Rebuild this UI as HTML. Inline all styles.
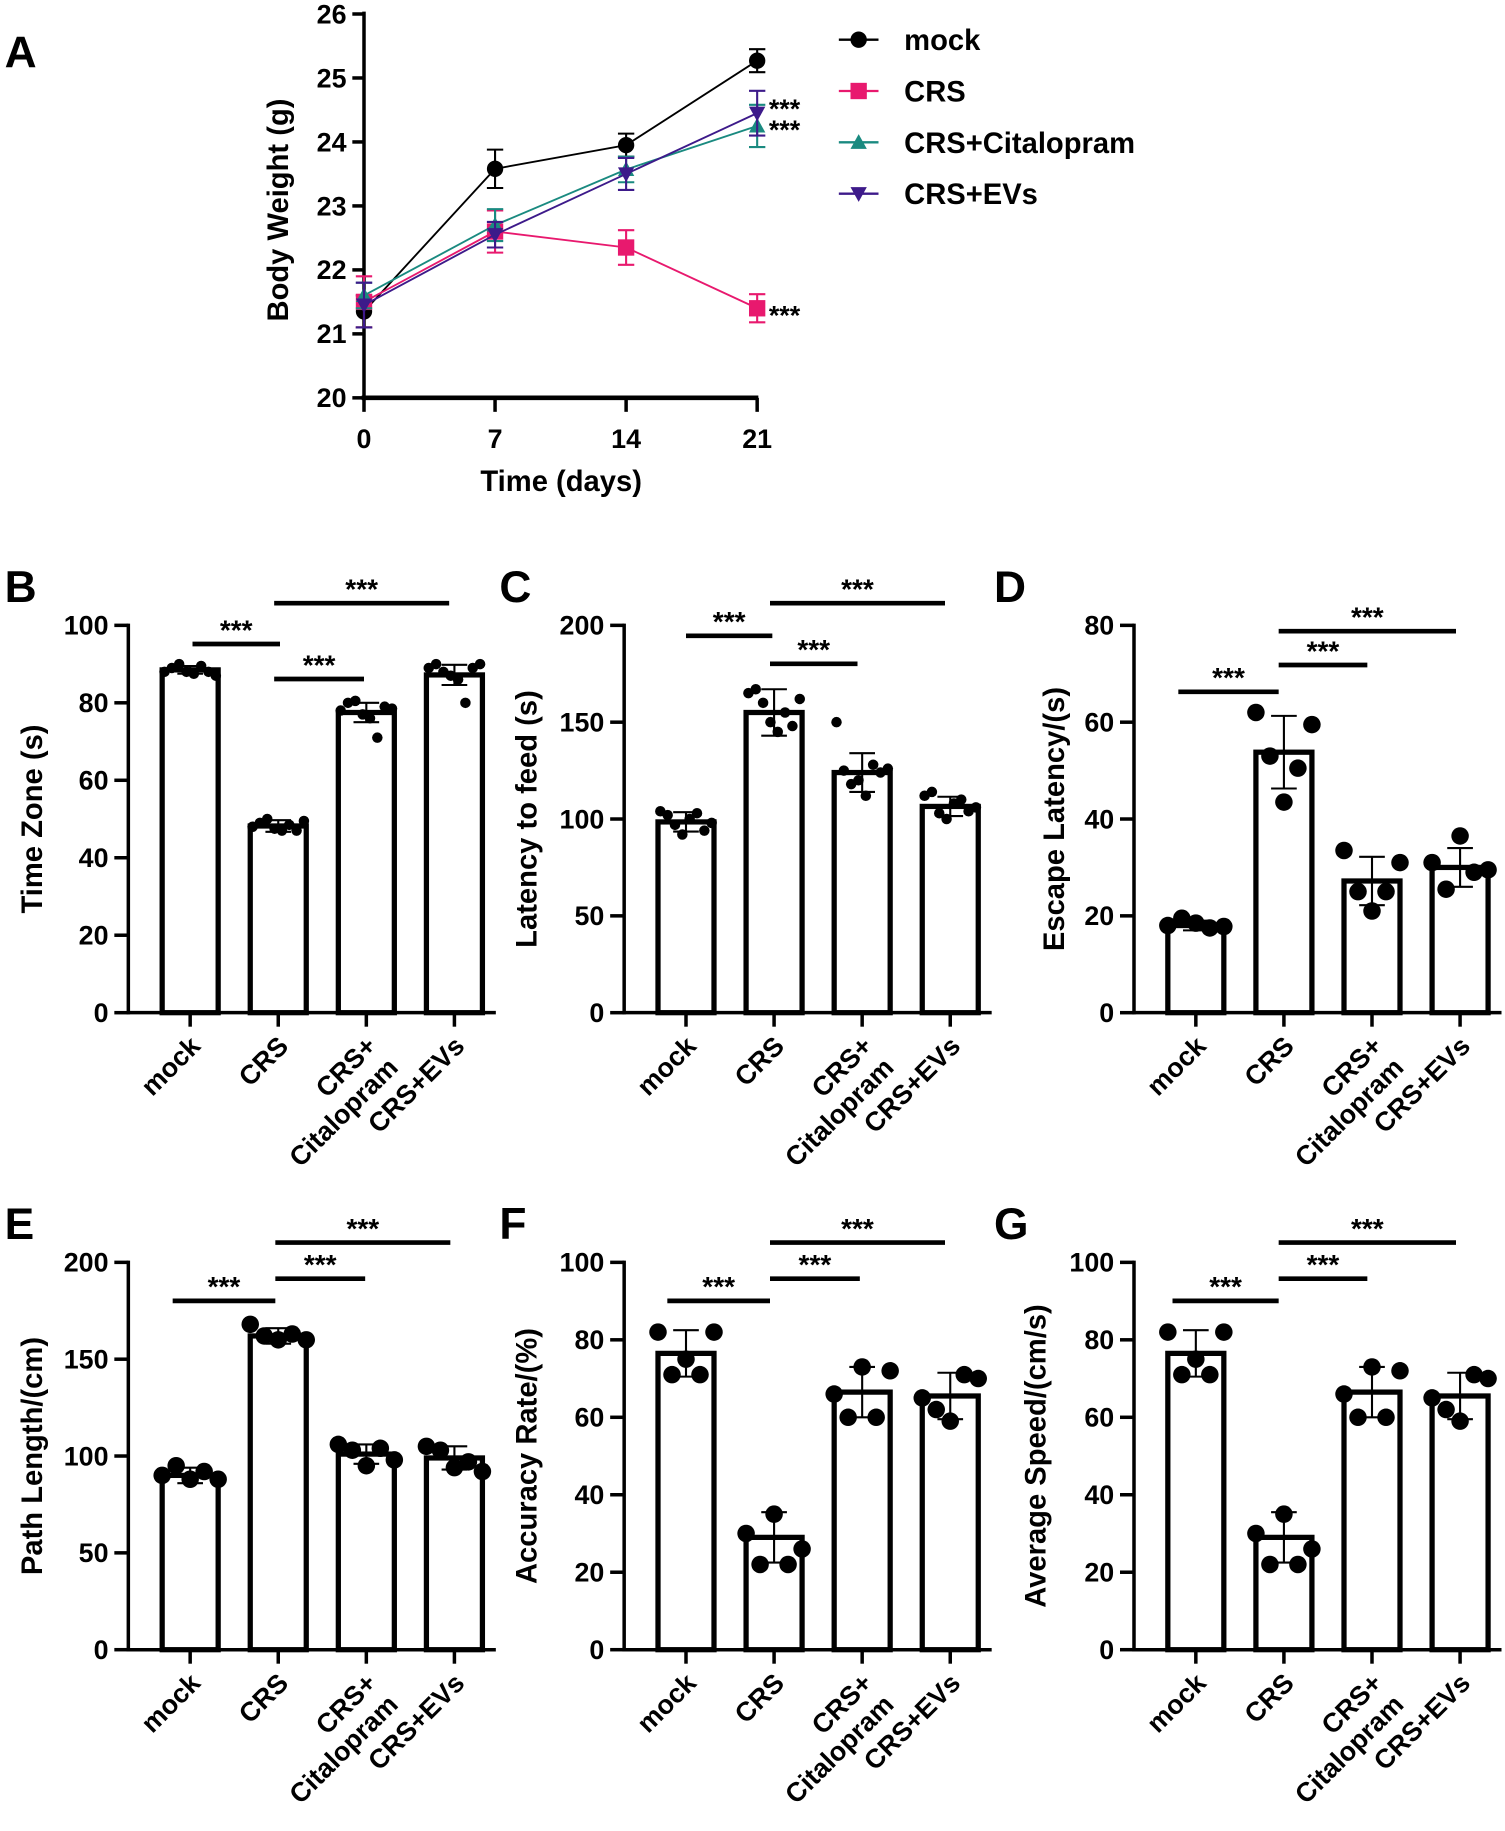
<!DOCTYPE html>
<html><head><meta charset="utf-8">
<style>
html,body{margin:0;padding:0;background:#fff;}
svg{display:block;}
text{font-family:"Liberation Sans",Arial,sans-serif;font-weight:bold;fill:#000;}
.nar{font-family:"Liberation Sans Narrow","Liberation Sans",sans-serif;}
</style></head>
<body>
<svg id="fig" width="1505" height="1831" viewBox="0 0 1290 1569.4" preserveAspectRatio="none" xmlns="http://www.w3.org/2000/svg"></svg>
<script>
// ---- Panel A data ----
const aDays = [0, 7, 14, 21];
const aYTicks = [20, 21, 22, 23, 24, 25, 26];
const aSeriesNames = ["mock", "CRS", "CRS+Citalopram", "CRS+EVs"];
const aMock = [21.35, 23.58, 23.95, 25.27];
const aMockErr = [0.25, 0.3, 0.18, 0.18];
const aCRS = [21.5, 22.6, 22.35, 21.4];
const aCRSErr = [0.4, 0.33, 0.27, 0.22];
const aCit = [21.6, 22.7, 23.57, 24.25];
const aCitErr = [0.2, 0.25, 0.2, 0.33];
const aEVs = [21.45, 22.55, 23.5, 24.45];
const aEVsErr = [0.35, 0.2, 0.25, 0.35];

// ---- Bar panels data ----
const groups = ["mock", "CRS", "CRS+ Citalopram", "CRS+EVs"];
const bMeans = [88.5, 48.2, 77.5, 87.2];
const bSD = [1, 1.5, 2.5, 2.6];
const bPts = [[88,89,90,88,87.5,89.5,88,87],[48,49,50,47.5,47,48.5,47,49.5],[78,80,80.5,77,76,71,79,78.5],[89,90,88,87,86,80,89,90]];
const bTicks = [0, 20, 40, 60, 80, 100];
const cMeans = [98.5, 155, 124, 106.5];
const cSD = [5, 12, 10, 5];
const cPts = [[104,102,97,92,100,103,94,98],[165,167,160,150,145,155,148,162],[150,125,118,120,112,128,124,126],[112,114,103,100,108,110,104,106]];
const cTicks = [0, 50, 100, 150, 200];
const dMeans = [18, 53.8, 27.2, 30];
const dSD = [1, 7.5, 5, 4];
const dPts = [[18,19.5,18.5,17.5,17.8],[62,53,43.5,50.5,59.5],[33.5,25,21,25,31],[31,25.5,36.5,29,29.5]];
const dTicks = [0, 20, 40, 60, 80];
const eMeans = [90, 162, 101, 99];
const eSD = [4, 4, 5, 6];
const ePts = [[90,95,88,92,88],[168,162,160,163,160],[106,103,95,104,98],[105,103,94,97,92]];
const eTicks = [0, 50, 100, 150, 200];
const fMeans = [76.5, 29, 66.5, 65.5];
const fSD = [6, 6.5, 6.5, 6];
const fPts = [[82,71,75,71,82],[30,22,35,22,26],[66,60,73,60,72],[65,62,59,71,70]];
const fTicks = [0, 20, 40, 60, 80, 100];
const gMeans = [76.5, 29, 66.5, 65.5];
const gSD = [6, 6.5, 6.5, 6];
const gPts = [[82,71,75,71,82],[30,22,35,22,26],[66,60,73,60,72],[65,62,59,71,70]];
const gTicks = [0, 20, 40, 60, 80, 100];

const NS = "http://www.w3.org/2000/svg";
const svg = document.getElementById("fig");
function mk(tag, attrs, parent, txt) {
  const e = document.createElementNS(NS, tag);
  for (const k in attrs) e.setAttribute(k, attrs[k]);
  if (txt !== undefined) e.textContent = txt;
  (parent || svg).appendChild(e);
  return e;
}

// ================= Panel A =================
const gA = mk("g", {});


const aX = d => 312 + (d - 0) / 21 * (649 - 312);
const aY = v => 341 - (v - 20) / 6 * (341 - 12);
let t = mk("text", {x: 4, y: 58, "font-size": 38}, gA, "A");


mk("line", {x1: 312, y1: 10, x2: 312, y2: 343, stroke: "#000", "stroke-width": 3}, gA);
mk("line", {x1: 310, y1: 341, x2: 650, y2: 341, stroke: "#000", "stroke-width": 4}, gA);
aYTicks.forEach(v => {
  mk("line", {x1: 302, y1: aY(v), x2: 312, y2: aY(v), stroke: "#000", "stroke-width": 3}, gA);
  const tt = mk("text", {x: 297, y: aY(v) + 8, "font-size": 23, "text-anchor": "end", class: "nar"}, gA, v);
  
  
});
aDays.forEach(d => {
  mk("line", {x1: aX(d), y1: 341, x2: aX(d), y2: 353, stroke: "#000", "stroke-width": 3}, gA);
  const tt = mk("text", {x: aX(d), y: 384, "font-size": 23, "text-anchor": "middle", class: "nar"}, gA, d);
  
  
});
t = mk("text", {x: 481, y: 421, "font-size": 25, "text-anchor": "middle", class: "nar"}, gA, "Time (days)");


t = mk("text", {x: 0, y: 0, "font-size": 25, "text-anchor": "middle", transform: "translate(247,180) rotate(-90)"}, gA, "Body Weight (g)");



const aSeries = [
  {v: aMock, e: aMockErr, c: "#000000", m: "circle", w: 1.6},
  {v: aCRS, e: aCRSErr, c: "#e8196e", m: "square", w: 1.6},
  {v: aCit, e: aCitErr, c: "#1a8a80", m: "tri", w: 1.6},
  {v: aEVs, e: aEVsErr, c: "#3d1a8a", m: "tridown", w: 1.6}
];
function marker(g, m, x, y, c, s) {
  if (m === "circle") return mk("circle", {cx: x, cy: y, r: s, fill: c}, g);
  if (m === "square") return mk("rect", {x: x - s, y: y - s, width: 2 * s, height: 2 * s, fill: c}, g);
  if (m === "tri") return mk("polygon", {points: `${x},${y - s} ${x - s},${y + s * 0.8} ${x + s},${y + s * 0.8}`, fill: c}, g);
  return mk("polygon", {points: `${x},${y + s} ${x - s},${y - s * 0.8} ${x + s},${y - s * 0.8}`, fill: c}, g);
}
aSeries.forEach((s, si) => {
  const g = mk("g", {}, gA);
  
  
  const pts = s.v.map((v, i) => `${aX(aDays[i])},${aY(v)}`).join(" ");
  mk("polyline", {points: pts, fill: "none", stroke: s.c, "stroke-width": s.w}, g);
  s.v.forEach((v, i) => {
    const x = aX(aDays[i]);
    const y1 = aY(v + s.e[i]), y2 = aY(v - s.e[i]);
    mk("line", {x1: x, y1: y1, x2: x, y2: y2, stroke: s.c, "stroke-width": 1.8}, g);
    mk("line", {x1: x - 7, y1: y1, x2: x + 7, y2: y1, stroke: s.c, "stroke-width": 1.8}, g);
    mk("line", {x1: x - 7, y1: y2, x2: x + 7, y2: y2, stroke: s.c, "stroke-width": 1.8}, g);
    const mm = marker(g, s.m, x, aY(v), s.c, 7);
    
    
  });
  const ly = 34 + si * 44;
  const lg = mk("g", {}, gA);
  
  
  mk("line", {x1: 719, y1: ly, x2: 753, y2: ly, stroke: s.c, "stroke-width": 2}, lg);
  marker(lg, s.m, 736, ly, s.c, 7);
  mk("text", {x: 775, y: ly + 9, "font-size": 25}, lg, aSeriesNames[si]);
});
[[aY(aEVs[3]) - 2, "sig-evs"], [aY(aCit[3]) + 5, "sig-cit"], [aY(aCRS[3]) + 8, "sig-crs"]].forEach(p => {
  const tt = mk("text", {x: 659, y: p[0] + 6, "font-size": 23, class: "nar"}, gA, "***");
  
  
});

// ================= Bar panels =================
function barPanel(cfg) {
  const g = mk("g", {});
  
  
  const ax = cfg.ax, top = cfg.top, bot = cfg.top + 332;
  const ymax = cfg.ticks[cfg.ticks.length - 1];
  const Y = v => bot - v / ymax * (bot - top);
  const X = i => ax + 53 + i * 75.5;
  let tt = mk("text", {x: cfg.lx, y: cfg.top - 20, "font-size": 38}, g, cfg.letter);
  
  
  mk("line", {x1: ax, y1: top - 1.5, x2: ax, y2: bot + 1.5, stroke: "#000", "stroke-width": 3}, g);
  mk("line", {x1: ax - 1.5, y1: bot, x2: ax + 315, y2: bot, stroke: "#000", "stroke-width": 3}, g);
  cfg.ticks.forEach(v => {
    mk("line", {x1: ax - 12, y1: Y(v), x2: ax, y2: Y(v), stroke: "#000", "stroke-width": 3}, g);
    const l = mk("text", {x: ax - 17, y: Y(v) + 8, "font-size": 23, "text-anchor": "end"}, g, v);
    
    
  });
  tt = mk("text", {x: 0, y: 0, "font-size": 25, "text-anchor": "middle", transform: `translate(${cfg.tx},${(top + bot) / 2}) rotate(-90)`}, g, cfg.title);
  
  
  cfg.means.forEach((m, i) => {
    const x = X(i);
    mk("line", {x1: x, y1: bot, x2: x, y2: bot + 12, stroke: "#000", "stroke-width": 3}, g);
    const b = mk("rect", {x: x - 24, y: Y(m), width: 48, height: bot - Y(m), fill: "#fff", stroke: "#000", "stroke-width": 4.5}, g);
    
    
    const n = cfg.pts[i].length;
    const r = n > 5 ? 4.5 : 7.5;
    const span = n > 5 ? 44 : 48;
    cfg.pts[i].forEach((p, j) => {
      const c = mk("circle", {cx: x - span / 2 + j * span / (n - 1), cy: Y(p), r: r, fill: "#000"}, g);
      
      
    });
    const y1 = Y(m + cfg.sd[i]), y2 = Y(m - cfg.sd[i]);
    mk("line", {x1: x, y1: y1, x2: x, y2: y2, stroke: "#000", "stroke-width": 1.8}, g);
    mk("line", {x1: x - 11, y1: y1, x2: x + 11, y2: y1, stroke: "#000", "stroke-width": 1.8}, g);
    mk("line", {x1: x - 11, y1: y2, x2: x + 11, y2: y2, stroke: "#000", "stroke-width": 1.8}, g);
    const lbl = groups[i].split(" ");
    const lt = mk("text", {x: 0, y: 0, "font-size": 23, "text-anchor": "end", transform: `translate(${x + 10},${bot + 30}) rotate(-45)`}, g);
    
    
    lbl.forEach((s, k) => mk("tspan", {x: 0, dy: k === 0 ? 0 : 26}, lt, s));
  });
  cfg.sig.forEach(s => {
    const y = s[2];
    const ln = mk("line", {x1: s[0], y1: y, x2: s[1], y2: y, stroke: "#000", "stroke-width": 4}, g);
    
    
    mk("text", {x: (s[0] + s[1]) / 2, y: y - 4, "font-size": 24, "text-anchor": "middle"}, g, "***");
  });
}
barPanel({name: "panel-b-time-zone", letter: "B", lx: 4, ax: 110, top: 536, ticks: bTicks, means: bMeans, sd: bSD, pts: bPts, title: "Time Zone (s)", tx: 36,
  sig: [[165, 240, 552], [235, 312, 582], [235, 385, 517]]});
barPanel({name: "panel-c-latency-to-feed", letter: "C", lx: 428, ax: 535, top: 536, ticks: cTicks, means: cMeans, sd: cSD, pts: cPts, title: "Latency to feed (s)", tx: 460,
  sig: [[588, 662, 545], [660, 735, 569], [660, 810, 517]]});
barPanel({name: "panel-d-escape-latency", letter: "D", lx: 852, ax: 972, top: 536, ticks: dTicks, means: dMeans, sd: dSD, pts: dPts, title: "Escape Latency/(s)", tx: 912,
  sig: [[1010, 1096, 593], [1096, 1172, 570], [1096, 1248, 541]]});
barPanel({name: "panel-e-path-length", letter: "E", lx: 4, ax: 110, top: 1082, ticks: eTicks, means: eMeans, sd: eSD, pts: ePts, title: "Path Length/(cm)", tx: 36,
  sig: [[148, 236, 1115], [236, 313, 1096], [236, 386, 1065]]});
barPanel({name: "panel-f-accuracy-rate", letter: "F", lx: 428, ax: 535, top: 1082, ticks: fTicks, means: fMeans, sd: fSD, pts: fPts, title: "Accuracy Rate/(%)", tx: 460,
  sig: [[572, 660, 1115], [660, 737, 1096], [660, 810, 1065]]});
barPanel({name: "panel-g-average-speed", letter: "G", lx: 852, ax: 972, top: 1082, ticks: gTicks, means: gMeans, sd: gSD, pts: gPts, title: "Average Speed/(cm/s)", tx: 896,
  sig: [[1005, 1096, 1115], [1096, 1172, 1096], [1096, 1248, 1065]]});
</script>
</body></html>
